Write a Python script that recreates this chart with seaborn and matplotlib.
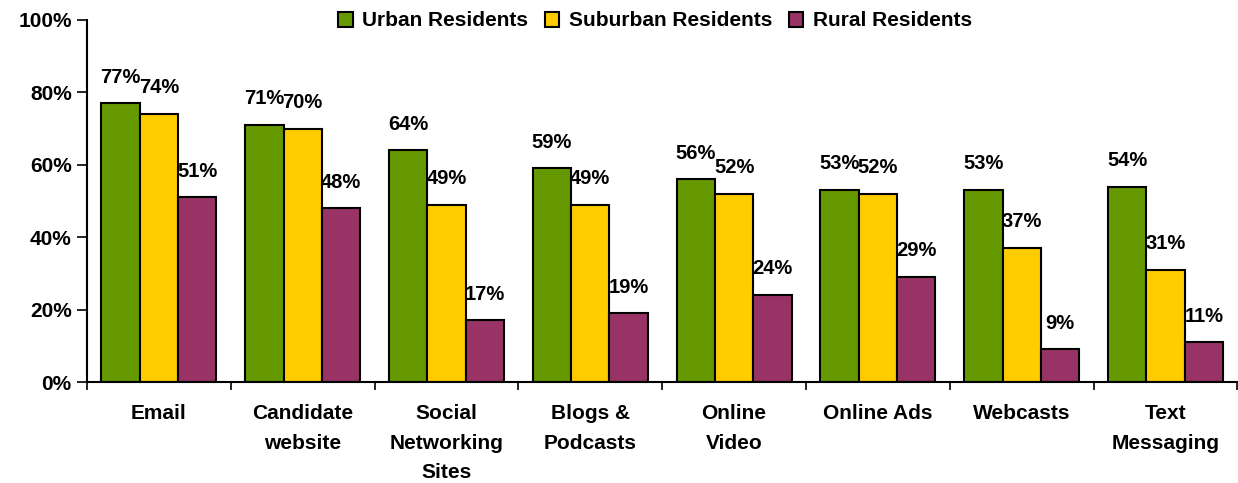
import matplotlib
matplotlib.use("Agg")
import matplotlib.pyplot as plt
from matplotlib.ticker import FixedLocator, NullFormatter
import seaborn as sns
import pandas as pd

# Online campaign activities by place of residence
categories = ["Email", "Candidate\nwebsite", "Social\nNetworking\nSites",
              "Blogs &\nPodcasts", "Online\nVideo", "Online Ads",
              "Webcasts", "Text\nMessaging"]
urban = [77, 71, 64, 59, 56, 53, 53, 54]
suburban = [74, 70, 49, 49, 52, 52, 37, 31]
rural = [51, 48, 17, 19, 24, 29, 9, 11]
series_names = ["Urban Residents", "Suburban Residents", "Rural Residents"]
series_colors = ["#669900", "#FFCC00", "#993366"]
y_ticks = [0, 20, 40, 60, 80, 100]

df = pd.DataFrame({
    "category": categories * 3,
    "group": [series_names[0]] * 8 + [series_names[1]] * 8 + [series_names[2]] * 8,
    "value": urban + suburban + rural,
})

sns.set_theme(style="white")
plt.rcParams["font.family"] = ["Liberation Sans", "DejaVu Sans"]
plt.rcParams["font.weight"] = "bold"
plt.rcParams["text.color"] = "black"
plt.rcParams["xtick.color"] = "black"
plt.rcParams["ytick.color"] = "black"

FS = 14.5

fig = plt.figure(figsize=(12.38, 4.83), dpi=100)
ax = fig.add_axes([87 / 1238, 1 - 382 / 483, 1 - 87 / 1238 - 0.0005, (382 - 20) / 483])

sns.barplot(data=df, x="category", y="value", hue="group", order=categories,
            hue_order=series_names, palette=series_colors, width=0.8,
            edgecolor="black", linewidth=1.5, saturation=1, ax=ax, legend=True)

for cont in ax.containers:
    ax.bar_label(cont, fmt="%d%%", padding=12, fontsize=FS, fontweight="bold",
                 color="black")

ax.set_xlim(-0.5, len(categories) - 0.5)
ax.set_ylim(0, 100)
ax.set_yticks(y_ticks)
ax.set_yticklabels([f"{v}%" for v in y_ticks], fontsize=15, fontweight="bold")
ax.set_xlabel("")
ax.set_ylabel("")

ax.set_xticks(range(len(categories)))
ax.set_xticklabels(categories, fontsize=15, fontweight="bold", linespacing=1.69,
                   va="top")
ax.xaxis.set_minor_locator(FixedLocator([i - 0.5 for i in range(len(categories) + 1)]))
ax.xaxis.set_minor_formatter(NullFormatter())
ax.tick_params(axis="x", which="major", direction="in", length=4, width=1.2,
               pad=16, bottom=True)
ax.tick_params(axis="x", which="minor", direction="out", length=6, width=1.2,
               bottom=True)
ax.tick_params(axis="y", direction="out", length=7, width=1.2, pad=4, left=True)

for side in ["top", "right"]:
    ax.spines[side].set_visible(False)
for side in ["left", "bottom"]:
    ax.spines[side].set_color("black")
    ax.spines[side].set_linewidth(1.5)

handles, labels = ax.get_legend_handles_labels()
ax.legend(handles, labels, loc="center", bbox_to_anchor=(655 / 1238, 1 - 21 / 483),
          bbox_transform=fig.transFigure, ncol=3, frameon=False,
          prop={"size": 15, "weight": "bold"}, handlelength=0.7,
          handleheight=0.7, handletextpad=0.45, columnspacing=0.8)

fig.savefig("out.png", dpi=100)
